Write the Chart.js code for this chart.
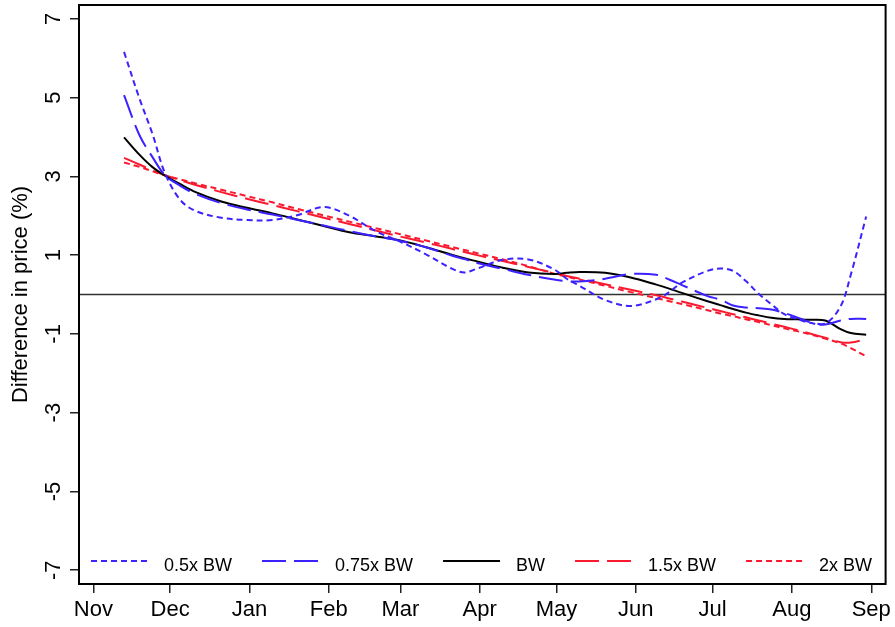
<!DOCTYPE html>
<html>
<head>
<meta charset="utf-8">
<script src="https://cdn.jsdelivr.net/npm/chart.js@4.4.1/dist/chart.umd.min.js"></script>
<style>
  html, body { margin: 0; padding: 0; background: #fff; }
  #wrap { width: 895px; height: 627px; }
</style>
</head>
<body>
<div id="wrap"><canvas id="priceChart" width="895" height="627"></canvas></div>
<script>
// x values are days counted from 1 Nov
const days = [12, 18, 23, 28, 34, 40, 50, 60, 70, 80, 90, 100, 110, 120, 130, 140, 145, 150, 160, 170, 180,
              185, 190, 200, 210, 220, 225, 230, 240, 245, 250, 255, 260, 265, 270, 275, 280, 286, 292, 296, 302];

const bw05 = [6.16, 4.98, 4.10, 3.08, 2.40, 2.12, 1.95, 1.89, 1.89, 2.02, 2.22, 2.00, 1.62, 1.34, 1.02, 0.66, 0.56, 0.66, 0.88, 0.89, 0.64,
              0.40, 0.22, -0.14, -0.29, -0.12, 0.06, 0.30, 0.60, 0.66, 0.60, 0.34, 0.02, -0.25, -0.50, -0.62, -0.72, -0.74, -0.30, 0.50, 1.98];
const bw075 = [5.06, 4.05, 3.50, 3.03, 2.76, 2.55, 2.32, 2.16, 2.03, 1.89, 1.75, 1.61, 1.48, 1.36, 1.20, 0.99, 0.90, 0.80, 0.65, 0.50, 0.38,
               0.34, 0.33, 0.40, 0.52, 0.50, 0.38, 0.24, -0.04, -0.13, -0.28, -0.33, -0.35, -0.38, -0.47, -0.58, -0.70, -0.76, -0.66, -0.62, -0.62];
const bw1 = [3.99, 3.55, 3.24, 3.02, 2.80, 2.60, 2.36, 2.20, 2.06, 1.90, 1.74, 1.58, 1.48, 1.37, 1.20, 1.01, 0.92, 0.84, 0.68, 0.56, 0.52,
             0.55, 0.57, 0.55, 0.43, 0.25, 0.15, 0.04, -0.17, -0.27, -0.37, -0.46, -0.53, -0.59, -0.62, -0.63, -0.64, -0.66, -0.88, -0.98, -1.02];
const bw15 = [3.47, 3.30, 3.15, 3.03, 2.90, 2.78, 2.60, 2.43, 2.27, 2.11, 1.95, 1.79, 1.63, 1.47, 1.32, 1.16, 1.08, 1.00, 0.85, 0.70, 0.55,
              0.47, 0.40, 0.26, 0.12, -0.02, -0.10, -0.18, -0.34, -0.42, -0.50, -0.58, -0.66, -0.74, -0.82, -0.90, -0.99, -1.10, -1.21, -1.22, -1.13];
const bw2 = [3.35, 3.24, 3.13, 3.02, 2.92, 2.82, 2.66, 2.50, 2.34, 2.17, 2.01, 1.85, 1.69, 1.53, 1.37, 1.21, 1.13, 1.05, 0.89, 0.72, 0.53,
             0.45, 0.38, 0.22, 0.06, -0.09, -0.17, -0.24, -0.40, -0.48, -0.55, -0.63, -0.70, -0.78, -0.86, -0.93, -1.01, -1.12, -1.24, -1.36, -1.57];

const monthDays = [0, 30, 61, 92, 120, 151, 181, 212, 242, 273, 304];
const monthLabels = ['Nov', 'Dec', 'Jan', 'Feb', 'Mar', 'Apr', 'May', 'Jun', 'Jul', 'Aug', 'Sep'];
const yTicks = [-7, -5, -3, -1, 1, 3, 5, 7];

const BLUE = '#3b22ff';
const RED = '#fa1a30';
const SHORT = [6, 4];
const LONG = [24, 8];
const FONT = '"Liberation Sans", Arial, Helvetica, sans-serif';

const series = [
  { label: '0.5x BW', values: bw05, color: BLUE, dash: SHORT },
  { label: '0.75x BW', values: bw075, color: BLUE, dash: LONG },
  { label: 'BW', values: bw1, color: '#000000', dash: [] },
  { label: '1.5x BW', values: bw15, color: RED, dash: LONG },
  { label: '2x BW', values: bw2, color: RED, dash: SHORT }
];

// frame, zero line, rotated y labels and the in-plot legend
const rPlot = {
  id: 'rPlot',
  beforeDatasetsDraw(chart) {
    const { ctx, chartArea: a, scales: { y } } = chart;
    const y0 = y.getPixelForValue(0);
    ctx.save();
    ctx.strokeStyle = '#333';
    ctx.lineWidth = 1.6;
    ctx.beginPath();
    ctx.moveTo(a.left, y0);
    ctx.lineTo(a.right, y0);
    ctx.stroke();
    ctx.restore();
  },
  afterDraw(chart) {
    const { ctx, chartArea: a, scales: { y } } = chart;
    ctx.save();
    ctx.strokeStyle = '#000';
    ctx.lineWidth = 2;
    ctx.strokeRect(a.left, a.top, a.right - a.left, a.bottom - a.top);

    ctx.fillStyle = '#000';
    ctx.font = '22px ' + FONT;
    ctx.textAlign = 'center';
    ctx.textBaseline = 'alphabetic';
    yTicks.forEach(v => {
      ctx.save();
      ctx.translate(a.left - 19, y.getPixelForValue(v));
      ctx.rotate(-Math.PI / 2);
      ctx.fillText(String(v), 0, 0);
      ctx.restore();
    });

    // legend
    ctx.font = '18px ' + FONT;
    ctx.textAlign = 'left';
    const ly = a.bottom - 23;
    let lx = a.left + 12;
    series.forEach(s => {
      ctx.strokeStyle = s.color;
      ctx.lineWidth = 2;
      ctx.setLineDash(s.dash);
      ctx.beginPath();
      ctx.moveTo(lx, ly);
      ctx.lineTo(lx + 57, ly);
      ctx.stroke();
      ctx.setLineDash([]);
      ctx.fillText(s.label, lx + 73, ly + 10);
      lx += 73 + ctx.measureText(s.label).width + 30;
    });
    ctx.restore();
  }
};

new Chart(document.getElementById('priceChart'), {
  type: 'line',
  data: {
    datasets: series.map(s => ({
      label: s.label,
      data: days.map((d, i) => ({ x: d, y: s.values[i] })),
      borderColor: s.color,
      borderDash: s.dash,
      borderWidth: 2,
      pointRadius: 0,
      tension: 0.35,
      fill: false
    }))
  },
  options: {
    responsive: false,
    animation: false,
    layout: { padding: { left: 0, right: 9, top: 5, bottom: 0 } },
    plugins: { legend: { display: false }, tooltip: { enabled: false } },
    scales: {
      x: {
        type: 'linear',
        min: -5.6,
        max: 309.6,
        afterBuildTicks: sc => { sc.ticks = monthDays.map(v => ({ value: v })); },
        afterFit: sc => { sc.height = 43; },
        border: { display: false },
        grid: { drawOnChartArea: false, drawTicks: true, tickLength: 9, color: '#222', lineWidth: 1.5 },
        ticks: {
          autoSkip: false,
          maxRotation: 0,
          padding: 4,
          color: '#000',
          font: { family: FONT, size: 22 },
          callback: v => monthLabels[monthDays.indexOf(v)]
        }
      },
      y: {
        min: -7.35,
        max: 7.35,
        afterBuildTicks: sc => { sc.ticks = yTicks.map(v => ({ value: v })); },
        afterFit: sc => { sc.width = 79; },
        border: { display: false },
        grid: { drawOnChartArea: false, drawTicks: true, tickLength: 9, color: '#222', lineWidth: 1.5 },
        ticks: { display: false },
        title: {
          display: true,
          text: 'Difference in price (%)',
          color: '#000',
          font: { family: FONT, size: 22 },
          padding: { top: 8, bottom: 0 }
        }
      }
    }
  },
  plugins: [rPlot]
});
</script>
</body>
</html>
